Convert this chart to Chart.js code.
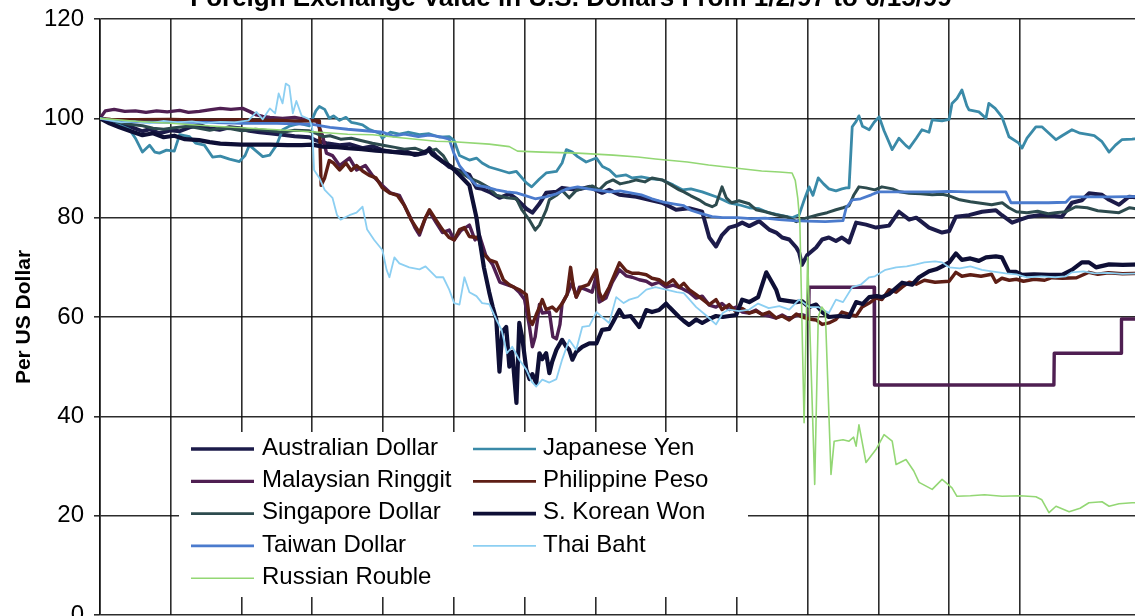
<!DOCTYPE html>
<html>
<head>
<meta charset="utf-8">
<title>Foreign Exchange Value in U.S. Dollars</title>
<script src="https://cdn.jsdelivr.net/npm/chart.js@4.4.1/dist/chart.umd.min.js"></script>
<style>
  html, body { margin: 0; padding: 0; background: #fff; overflow: hidden; width: 1135px; height: 616px; }
  #wrap { position: absolute; left: 0; top: -30px; width: 1142px; height: 676px; }
  canvas { display: block; }
</style>
</head>
<body>
<div id="wrap"><canvas id="fx" width="1142" height="676"></canvas></div>
<script>
// Index values (1/2/97 = 100), x in months after 1/2/97
const TITLE = 'Foreign Exchange Value in U.S. Dollars From 1/2/97 to 6/15/99';
const X_MAX = 29.45;
const Y_TICKS = [0, 20, 40, 60, 80, 100, 120];
const seriesNames = ['Australian Dollar', 'Japanese Yen', 'Malaysian Ringgit', 'Philippine Peso',
  'Singapore Dollar', 'S. Korean Won', 'Taiwan Dollar', 'Thai Baht', 'Russian Rouble'];

const audMonths = [0,0.27,0.55,0.83,1.2,1.4,1.68,2.0,2.25,2.53,2.81,3.09,3.38,3.66,3.94,4.22,4.51,4.79,5.16,5.5,
  5.92,6.12,6.4,6.77,7.05,7.42,7.7,7.98,8.3,8.6,8.9,9.2,9.31,9.5,9.87,10.16,10.44,10.64,10.8,11.0,
  11.29,11.57,11.77,12.05,12.22,12.42,12.61,12.9,13.06,13.46,13.83,14.19,14.39,14.68,15.16,15.52,15.89,16.28,16.65,17.02,
  17.22,17.41,17.58,17.78,17.98,18.15,18.35,18.63,18.91,19.11,19.28,19.48,19.68,19.76,19.84,19.99,20.24,20.41,20.6,20.8,
  20.97,21.17,21.37,21.65,21.93,22.3,22.58,22.87,23.07,23.43,23.8,24.0,24.19,24.56,24.93,25.32,25.49,25.78,25.97,26.26,
  26.62,27.19,27.47,27.75,27.95,28.32,28.52,28.8,29.08,29.45];
const audValues = [100,99.5,98.8,98.4,97.4,97.8,97.0,97.6,97.4,98.2,98.6,98.0,97.7,98.2,98.0,97.5,97.2,97.0,96.7,96.4,
  96.2,95.5,95.0,94.6,94.8,94.0,94.4,93.6,93.2,93.5,92.6,93.0,94.0,92.4,90.2,89.4,88.6,86.0,85.8,85.2,
  84.0,84.8,83.8,81.8,81.0,82.8,85.0,85.2,86.0,85.6,86.2,85.0,85.6,84.6,84.2,83.6,83.0,81.6,81.9,81.2,
  76.0,74.2,76.5,78.0,78.4,79.0,78.3,79.3,77.6,77.0,76.0,75.6,74.0,73.0,70.5,72.5,74.0,75.6,76.0,75.3,
  76.0,75.0,79.0,78.6,78.0,78.4,81.2,79.6,80.0,78.0,77.0,77.3,80.2,80.5,81.2,81.5,80.5,79.0,79.5,80.2,
  80.6,80.2,83.0,83.5,84.9,84.6,83.6,82.6,84.2,84.0];

const jpyMonths = [0,0.27,0.55,0.83,1.0,1.2,1.4,1.55,1.68,1.88,2.1,2.25,2.53,2.7,2.95,3.18,3.4,3.66,3.94,4.1,
  4.22,4.4,4.6,4.8,4.99,5.16,5.35,5.64,5.92,6.1,6.2,6.35,6.48,6.6,6.77,6.95,7.1,7.25,7.42,7.6,
  7.9,7.98,8.2,8.46,8.7,9.03,9.3,9.6,9.87,10.01,10.16,10.44,10.64,10.8,11.0,11.29,11.57,11.77,12.05,12.2,
  12.42,12.61,12.9,13.06,13.18,13.35,13.5,13.74,14.03,14.2,14.4,14.59,14.87,15.04,15.3,15.6,15.89,16.2,16.46,16.7,
  17.02,17.41,17.6,17.78,18.06,18.35,18.63,18.9,19.28,19.56,19.76,19.9,20.04,20.15,20.3,20.45,20.6,20.8,20.97,21.09,
  21.17,21.26,21.37,21.45,21.55,21.74,21.88,22.02,22.16,22.39,22.58,22.78,22.87,23.07,23.23,23.43,23.52,23.8,24.0,24.08,
  24.22,24.36,24.5,24.56,24.84,25.04,25.12,25.3,25.49,25.69,25.97,26.06,26.2,26.45,26.62,26.82,27.02,27.19,27.47,27.7,
  27.95,28.1,28.32,28.52,28.7,28.88,29.17,29.45];
const jpyValues = [100,99.3,98.6,97.8,96,93.2,94.6,93.2,93,93.6,93.4,96.7,96.3,95,94.6,92.2,92.4,91.8,91.3,92.5,
  94.6,93.5,92.3,92.6,94.6,97.7,98.4,99,98.5,101.5,102.4,101.8,100,100.5,99.6,100.2,99.2,99,98.7,97.8,
  97,96,97.2,96.8,97.2,96.7,96.9,96.2,96.3,95.5,92.5,91.6,92,91,90.2,89.6,89,89.3,87,86.2,
  87.8,89,89.3,91,93.7,93.2,92.3,91.2,92,90.3,89.6,88.3,88.6,88,88.2,87.8,87.6,86.6,85.6,85.8,
  85.2,84.2,83.6,83,82.6,82,81.8,81,80.4,80,80.6,83.5,86.2,84.5,88,86.8,85.8,85.4,85.8,86,
  86,98.3,99.4,100.5,98.4,97.7,99.2,100.3,97.5,93.7,96,94.5,94,96,97.7,97.2,99.7,99.5,99.8,103,
  104,105.7,102.5,101.7,101.3,100,103,102,100.3,96.3,95,94,96,98.3,98.3,97,95.7,96.5,97.7,97,
  96.7,96.5,95.3,93.2,94.6,95.7,95.8,96];

const myrMonths = [0,0.15,0.4,0.7,1.0,1.3,1.6,1.9,2.25,2.5,2.81,3.09,3.4,3.7,4.03,4.22,4.42,4.6,4.8,5.16,
  5.5,5.8,6.12,6.29,6.4,6.57,6.77,7.05,7.25,7.5,7.7,7.98,8.2,8.46,8.74,8.9,9.03,9.2,9.31,9.5,
  9.68,9.87,10.01,10.2,10.44,10.6,10.72,10.9,11.1,11.3,11.5,11.7,11.85,12.0,12.14,12.22,12.3,12.42,12.5,12.7,
  12.8,12.9,13.0,13.06,13.2,13.35,13.46,13.55,13.74,13.91,14.03,14.11,14.3,14.48,14.68,14.87,15.04,15.24,15.44,15.6,
  15.8,16.0,16.2,16.46,16.65,16.85,17.02,17.22,17.41,17.58,17.78,17.98,18.15,18.35,18.54,18.72,18.91,19.11,19.28,19.48,
  19.68,19.84,20.03,20.04,21.88,21.89,26.96,26.97,28.86,28.87,29.45];
const myrValues = [100,101.5,101.8,101.4,101.5,101.2,101.5,101.3,101.6,101.2,101.4,101.7,102,101.8,102,101.4,100.7,100.4,100.2,100,
  100.2,99.8,99.5,96.5,93,92.5,90.5,92,89.6,90.5,88.5,86.5,85,84.5,80.5,78,76.5,80,81.2,79,
  77,77.5,75.5,77.4,78.5,75.5,76.5,72.5,70.5,67,66.5,66,65,63.5,58,54,56,62.5,60.8,61,
  56,55.6,58.5,62.7,64.5,67,64,66,65.5,65,68.5,63,63.8,67,69.5,68.3,68,67.5,67.2,66.5,
  67,66,66.4,65.7,65,63.8,64.2,62.4,62,62.7,61.5,62,61,60.8,61.4,60.5,60.2,59.8,60.4,59.6,
  60.3,60.5,60,66,66,46.3,46.3,52.7,52.7,59.6,59.6];

const phpMonths = [0,0.3,1.0,2.0,3.0,4.0,4.5,5.0,5.5,6.0,6.2,6.25,6.35,6.48,6.6,6.77,6.95,7.1,7.25,7.42,
  7.61,7.8,7.98,8.18,8.4,8.6,8.8,9.03,9.2,9.31,9.5,9.68,9.87,10.01,10.16,10.3,10.44,10.64,10.72,10.8,
  11.0,11.2,11.4,11.57,11.7,11.85,12.05,12.14,12.22,12.33,12.42,12.5,12.61,12.78,12.9,13.06,13.2,13.3,13.38,13.46,
  13.6,13.8,14.03,14.11,14.2,14.39,14.48,14.68,14.87,15.04,15.24,15.44,15.6,15.8,16.0,16.2,16.37,16.5,16.65,16.85,
  17.02,17.22,17.41,17.58,17.78,17.98,18.15,18.35,18.54,18.72,18.91,19.11,19.28,19.48,19.68,19.84,20.04,20.24,20.41,20.6,
  20.8,20.97,21.2,21.37,21.54,21.74,21.93,22.1,22.3,22.5,22.67,22.87,23.07,23.3,23.6,24.0,24.19,24.36,24.6,24.9,
  25.2,25.32,25.49,25.7,25.9,26.1,26.4,26.7,26.9,27.2,27.6,27.95,28.2,28.5,28.9,29.45];
const phpValues = [100,99.8,99.7,99.8,99.6,99.7,99.5,99.6,99.4,99.5,99.5,86.5,88,91.5,91,89.6,91,89.5,90.5,89.4,
  88.5,88,86,85,84.5,82.5,79.5,77,80,81.6,79.5,77.6,76,75.5,77.6,78,76.2,76,75.5,73,
  71.5,71,67.5,66.5,66,65.5,64.5,59.5,58.5,60.5,62,63.5,61.5,62,61.2,62.7,64.5,70,66,64,
  66,66.5,69.5,65,63.5,66,67.5,70.9,69.3,68.8,68.8,68.5,67.8,67.5,66.5,67.5,66,66.8,65.5,64.5,
  63.6,62.5,63.5,61.5,62.5,61,61.7,60.8,61.2,60.5,61,59.8,60.2,59.4,60.6,60,59.6,59.4,58.5,58.8,
  59.5,61,60.5,60.2,62,62.8,63.8,63.5,65.5,65,66,67,66.6,67.4,67,67.2,69,68.2,68.5,68.2,
  68.6,67,67.8,67.4,67.6,67.2,67.6,67.4,67.9,67.8,67.9,69,68.6,68.9,68.7,68.8];

const sgdMonths = [0,0.3,0.55,0.83,1.2,1.5,1.8,2.1,2.5,2.8,3.1,3.4,3.7,4.0,4.4,4.8,5.16,5.5,5.9,6.1,
  6.3,6.5,6.8,7.1,7.4,7.7,8.0,8.3,8.6,8.9,9.2,9.5,9.7,9.87,10.1,10.44,10.7,11.0,11.2,11.5,
  11.77,11.93,12.14,12.3,12.42,12.61,12.7,12.9,13.06,13.26,13.46,13.7,13.91,14.11,14.31,14.5,14.7,14.96,15.16,15.4,
  15.6,15.89,16.09,16.37,16.5,16.7,16.93,17.1,17.3,17.41,17.5,17.58,17.7,17.85,18.06,18.35,18.54,18.8,19.1,19.4,
  19.68,19.9,20.1,20.3,20.55,20.8,21.0,21.17,21.3,21.45,21.65,21.9,22.1,22.4,22.6,22.87,23.2,23.52,23.8,24.0,
  24.3,24.6,24.9,25.2,25.5,25.69,25.9,26.2,26.5,26.8,27.0,27.3,27.58,27.9,28.2,28.5,28.8,29.1,29.45];
const sgdValues = [100,99.5,99.2,98.8,98.5,98,97.8,98.1,98.4,98,97.6,98,97.9,97.5,97.8,97.5,97.2,97.6,97.5,97,
  96.3,96.5,95.8,96,95.5,95,94.6,94.2,93.8,94,93.2,93.8,92.5,90.5,89.5,88,87.2,86,84.5,84,
  83.8,81.5,79.5,77.5,78.5,81.5,83.6,84.5,85.5,84,85.5,86,86.4,85.6,87,87.6,86.8,87.2,87.6,87.2,
  88,87.6,86.8,85.6,85.2,84.4,83.6,82.8,82.2,82.6,84.5,86.2,84,83,83.4,82.8,81.6,81.2,80.6,80.2,
  79.2,79.8,80.2,80.6,81,81.6,82,82.4,84.5,86.2,86,85.6,86.2,85.8,85.2,84.9,84.8,84.6,84.7,84.4,
  83.6,83.2,82.9,82.6,83,82,81.2,81,81.3,80.8,81,81.2,82.2,82,81.4,81.2,81,82,81.6];

const krwMonths = [0,0.27,0.55,0.83,1.2,1.5,1.8,2.1,2.4,2.8,3.1,3.4,3.7,4.0,4.3,4.8,5.3,5.7,6.0,6.3,
  6.7,7.0,7.4,7.8,8.2,8.6,9.0,9.3,9.4,9.7,9.9,10.16,10.44,10.64,10.72,10.85,11.0,11.1,11.2,11.29,
  11.37,11.48,11.57,11.65,11.72,11.77,11.85,11.93,12.05,12.14,12.22,12.33,12.42,12.5,12.61,12.7,12.78,12.9,13.06,13.18,
  13.26,13.35,13.46,13.63,13.83,14.03,14.19,14.39,14.5,14.68,14.8,15.0,15.24,15.44,15.6,15.8,16.0,16.09,16.37,16.5,
  16.65,16.85,17.02,17.22,17.41,17.6,17.98,18.15,18.35,18.6,18.83,19.0,19.11,19.2,19.48,19.68,19.84,20.04,20.24,20.41,
  20.6,20.9,21.17,21.37,21.55,21.74,21.95,22.1,22.3,22.67,22.95,23.15,23.43,23.63,23.8,24.0,24.19,24.36,24.6,24.84,
  25.04,25.32,25.49,25.69,25.89,26.06,26.4,26.82,27.19,27.47,27.75,27.95,28.15,28.52,28.9,29.45];
const krwValues = [100,99,98.2,97.5,96.6,97,96.2,96.5,95.8,95.6,95.2,94.9,94.8,94.7,94.7,94.7,94.6,94.6,94.7,94.3,
  94.2,94.0,93.8,93.5,93.3,93.0,92.8,93.6,92.7,91.2,90.4,88.6,86.5,80,76,70,65,62,59.5,49,
  57,58,50,53,47,42.7,58.8,56,49.4,47.5,48.5,46.7,52.7,51.5,52.7,48.7,51,53.4,55.4,54,
  53.4,51.4,53,54,54.7,54.7,57.4,57.6,59,61.4,60,60.2,58,61.4,61,61.4,62.7,62,60,59.2,
  58.4,59.5,58.8,59.6,60.2,60,60.4,63.5,63,64,69,66.9,65.5,63.5,63.2,63,63.2,62,62.5,61,
  60,60.2,60,63,62.6,64,64.2,64,64.6,66.9,66.5,68,69.2,69.6,70.2,71,72.8,71.5,71.8,71.3,
  72,72.2,72,69.1,69.1,68.5,68.6,68.5,68.5,69.5,71,71,70,70.6,70.5,70.6];

const twdMonths = [0,0.4,1,2,3,4,5,6,6.5,7,7.5,8.0,8.3,8.6,9.0,9.3,9.6,9.87,10.0,10.16,
  10.44,10.64,10.9,11.2,11.5,11.77,12.0,12.3,12.6,12.9,13.2,13.5,13.8,14.1,14.4,14.7,15.0,15.3,15.6,15.89,
  16.2,16.5,16.7,17.0,17.3,17.6,18.0,18.4,18.8,19.2,19.6,20.0,20.5,21.0,21.09,21.26,21.5,21.8,22.0,22.5,
  23.0,23.5,24.0,24.5,25.0,25.6,25.75,26.2,26.8,27.3,27.45,28.0,28.6,29.45];
const twdValues = [100,99.5,99.3,99.2,99.2,99.0,99.0,98.8,98.2,97.8,97.5,97.2,96.4,96.8,96.3,96.6,96.3,95.8,93,90.5,
  88,86.5,86.2,85.6,85.2,85,84.5,83.8,84.2,84.8,85.8,86.2,85.8,85.5,85.2,85.4,85.0,84.6,83.8,83.2,
  82.8,82.4,81.5,80.8,80.2,80.0,80.0,79.8,79.9,79.6,79.4,79.3,79.2,79.4,82,83.6,83.8,84.6,85.2,85.2,
  85.2,85.2,85.3,85.2,85.2,85.2,83,83,83,83.1,84.2,84.2,84.2,84.3];

const thbMonths = [0,0.3,0.6,1.0,1.4,1.8,2.2,2.6,3.0,3.4,3.8,4.2,4.42,4.6,4.8,4.95,5.05,5.16,5.25,5.35,
  5.45,5.55,5.7,5.92,6.0,6.05,6.2,6.35,6.57,6.7,6.8,7.05,7.25,7.42,7.55,7.75,7.98,8.1,8.18,8.32,
  8.46,8.74,9.03,9.2,9.51,9.7,9.87,10.01,10.16,10.3,10.44,10.64,10.8,11.0,11.2,11.35,11.5,11.65,11.85,12.05,
  12.2,12.33,12.5,12.7,12.9,13.06,13.26,13.46,13.63,13.83,14.03,14.19,14.39,14.59,14.8,14.96,15.2,15.44,15.7,16.0,
  16.3,16.5,16.85,17.1,17.41,17.6,17.78,18.06,18.35,18.6,18.9,19.2,19.48,19.76,20.04,20.3,20.6,20.8,21.0,21.26,
  21.5,21.74,21.9,22.2,22.5,22.8,23.07,23.3,23.6,23.8,24.0,24.3,24.6,24.93,25.2,25.6,25.9,26.2,26.6,27.0,
  27.3,27.47,27.8,28.1,28.5,28.9,29.45];
const thbValues = [100,99.6,99.2,99.4,99,99.5,99.2,99.4,99,99.3,99.2,99.6,101.3,99.8,102,101,105,103,107,106.5,
  101,103.5,100.5,99.8,98,89.6,88,85.6,84,80.5,79.6,80.5,81,82.2,77.6,75.5,73.5,69.5,68,72,
  70.8,70,69.6,70.2,68,68,65.5,62.8,62.5,68,65,64.2,62.8,62.6,59.5,57.4,52.7,54,51.4,49.4,
  47,46,47.4,46.8,47.5,51.4,55.4,53.4,58,58.2,61,60,58.8,64,62.8,63.5,64,65.5,66,65.5,
  65,64.8,62,60.5,58.5,60.8,61.5,61.2,61.5,62.7,61.8,62.2,61.5,63.5,62,62,60.8,63.5,63,66,
  66.5,68,68.2,69.5,70,70.2,70.6,71,71.2,71,70,69.8,70.2,69.5,69.2,68.8,68.6,68,68.2,68,
  68.2,69,69.2,68.8,68.9,68.7,68.8];

const rubMonths = [0,1,2,3,4,5,6,7,7.7,8.5,9.5,10.0,11.0,11.57,11.8,12.5,13.5,14.0,14.5,15.2,
  15.7,16.0,16.6,17.2,17.7,18.2,18.7,19.2,19.56,19.65,19.72,19.78,19.9,20.0,20.2,20.3,20.4,20.5,20.66,20.75,
  21.0,21.17,21.3,21.37,21.45,21.65,21.93,22.16,22.39,22.5,22.78,23.0,23.15,23.52,23.8,24.08,24.22,24.6,25.0,25.5,
  26.0,26.45,26.62,26.82,27.02,27.39,27.7,27.95,28.32,28.52,28.8,29.17,29.45];
const rubValues = [100,99.4,99,98.5,98.1,97.7,97.3,96.8,96.7,96.1,95.4,95.3,94.8,94.3,93.4,93.2,93,92.8,92.6,92.2,
  91.8,91.6,91.2,90.6,90.2,89.8,89.4,89.2,89,87.5,84,79,38.7,72,26.3,60,62,61,28.3,35,
  35.3,35,35.8,34,38.3,30.7,33.3,36.3,35,30.3,31.3,29,26.7,25.3,27.3,25.6,23.9,24,24.2,23.9,
  24,23.8,23.2,20.6,21.9,20.8,21.5,22.6,22.8,21.9,22.4,22.6,22.6];

// Per-series styling, same order as seriesNames
const seriesColors = ['#1c1b4a', '#3a8aa8', '#4f1f52', '#5e1e15', '#2d4b4e', '#0e0f36', '#4b7bcd', '#8ccff2', '#93d774'];
const lineWidths   = [4.0, 2.8, 3.4, 3.4, 3.0, 4.2, 2.8, 1.8, 1.6];
const keyWidths    = [3.4, 2.4, 3.2, 2.8, 2.8, 3.8, 2.6, 1.8, 1.5];

const seriesData = [
  [audMonths, audValues], [jpyMonths, jpyValues], [myrMonths, myrValues], [phpMonths, phpValues],
  [sgdMonths, sgdValues], [krwMonths, krwValues], [twdMonths, twdValues], [thbMonths, thbValues],
  [rubMonths, rubValues]
];

const FONT = '"Liberation Sans", Arial, Helvetica, sans-serif';
const GRID = 'rgba(15,15,15,0.88)';

const datasets = seriesData.map(([months, values], i) => {
  const n = Math.min(months.length, values.length);
  const pts = [];
  for (let k = 0; k < n; k++) pts.push({ x: months[k], y: values[k] });
  return {
    label: seriesNames[i],
    data: pts,
    borderColor: seriesColors[i],
    backgroundColor: seriesColors[i],
    borderWidth: lineWidths[i],
    keyWidth: keyWidths[i],
    order: -i,
    pointRadius: 0,
    fill: false
  };
});

// Boxed two-column key in the lower left of the plot
const KEY = { x: 179, y: 462, w: 569, h: 165, rowTop: 478, rowGap: 32.3,
  sampleX: [191, 473], sampleW: 63, textX: [262, 543] };

const keyBox = {
  id: 'keyBox',
  afterDatasetsDraw(chart) {
    const ctx = chart.ctx;
    ctx.save();
    ctx.fillStyle = '#ffffff';
    ctx.fillRect(KEY.x, KEY.y, KEY.w, KEY.h);
    ctx.font = '24px ' + FONT;
    ctx.textBaseline = 'middle';
    ctx.textAlign = 'left';
    chart.data.datasets.forEach((ds, i) => {
      const col = i % 2;
      const row = Math.floor(i / 2);
      const cy = KEY.rowTop + row * KEY.rowGap;
      ctx.strokeStyle = ds.borderColor;
      ctx.lineWidth = ds.keyWidth;
      ctx.lineCap = 'butt';
      ctx.beginPath();
      ctx.moveTo(KEY.sampleX[col], cy + 1);
      ctx.lineTo(KEY.sampleX[col] + KEY.sampleW, cy + 1);
      ctx.stroke();
      ctx.fillStyle = '#000';
      ctx.fillText(ds.label, KEY.textX[col], cy);
    });
    ctx.restore();
  }
};

Chart.defaults.font.family = FONT;
Chart.defaults.color = '#000';

new Chart(document.getElementById('fx'), {
  type: 'line',
  data: { datasets },
  options: {
    responsive: false,
    animation: false,
    devicePixelRatio: 1,
    layout: { padding: { top: 0, left: 0, right: 0, bottom: 31 } },
    elements: {
      point: { radius: 0 },
      line: { tension: 0, borderJoinStyle: 'round', borderCapStyle: 'round' }
    },
    plugins: {
      legend: { display: false },
      tooltip: { enabled: false },
      title: {
        display: true,
        text: TITLE,
        color: '#000',
        font: { size: 26, weight: 'bold' },
        padding: { top: 13, bottom: 4.8 }
      }
    },
    scales: {
      x: {
        type: 'linear',
        min: 0,
        max: X_MAX,
        ticks: { display: false, stepSize: 2 },
        grid: { color: GRID, lineWidth: 1.6, drawTicks: false },
        border: { display: false }
      },
      y: {
        min: Y_TICKS[0],
        max: Y_TICKS[Y_TICKS.length - 1],
        afterBuildTicks(scale) { scale.ticks = Y_TICKS.map(v => ({ value: v })); },
        ticks: { padding: 10, color: '#000', font: { size: 24 } },
        grid: { color: GRID, lineWidth: 1.6, tickLength: 6 },
        border: { color: GRID, width: 1.6 },
        title: {
          display: true,
          text: 'Per US Dollar',
          color: '#000',
          font: { size: 21, weight: 'bold' },
          padding: { top: 12, bottom: 0 }
        },
        afterFit(scale) { scale.width = 100; }
      }
    }
  },
  plugins: [keyBox]
});
</script>
</body>
</html>
